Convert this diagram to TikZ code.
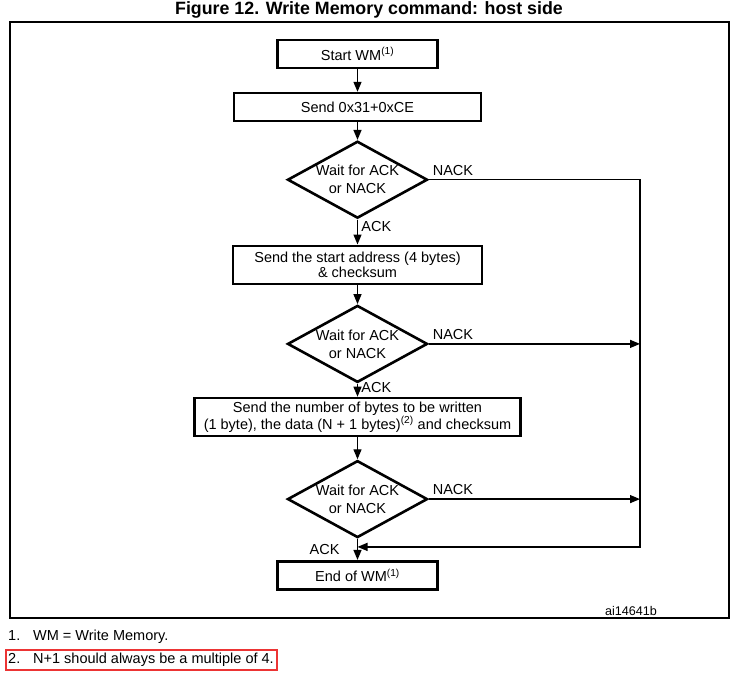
\documentclass[tikz,border=0pt]{standalone}
\usepackage{fontspec}
\setmainfont{Liberation Sans}
\usetikzlibrary{positioning, shapes.geometric, arrows.meta, calc}

\definecolor{alertred}{RGB}{236,52,52}

\tikzset{
  stepbox/.style={rectangle, draw, line width=2.6pt, minimum height=28pt, align=center, font=\fontsize{14.5}{15}\selectfont},
  waitbox/.style={diamond, draw, line width=2.6pt, aspect=1.84, inner sep=0pt, minimum width=140pt, minimum height=77pt, align=center, font=\fontsize{14.5}{18}\selectfont},
  flow/.style={line width=1.3pt, -{Triangle[length=10pt, width=8pt]}},
  tag/.style={font=\fontsize{14.5}{15}\selectfont}
}

\begin{document}
\begin{tikzpicture}[x=1pt, y=-1pt]
  \useasboundingbox (0,0) rectangle (739,674);

  % Titolo e cornice
  \node[font=\bfseries\fontsize{17.8}{20}\selectfont] (title) at (369,10) {Figure 12. Write Memory command: host side};
  \draw[line width=1.2pt] (10,22) rectangle (729,618);

  % Blocchi del flusso
  \node[stepbox, minimum width=160pt] (start) at (357.5,54) {Start WM\textsuperscript{(1)}};
  \node[stepbox, minimum width=247pt, below=22.5pt of start] (send) {Send 0x31+0xCE};
  \node[waitbox, below=17.5pt of send] (wait1) {Wait for ACK\\or NACK};
  \node[stepbox, minimum width=249pt, minimum height=38pt, below=25pt of wait1] (addr) {Send the start address (4 bytes)\\\& checksum};
  \node[waitbox, below=19pt of addr] (wait2) {Wait for ACK\\or NACK};
  \node[stepbox, minimum width=326pt, minimum height=38pt, below=13pt of wait2] (data) {Send the number of bytes to be written\\(1 byte), the data (N + 1 bytes)\textsuperscript{(2)} and checksum};
  \node[waitbox, below=22pt of data] (wait3) {Wait for ACK\\or NACK};
  \node[stepbox, minimum width=160pt, below=21pt of wait3] (stop) {End of WM\textsuperscript{(1)}};

  % Ritorno NACK
  \coordinate (rail) at (640,0);
  \coordinate[below=8pt of wait3.south] (join);

  \draw[flow] (start) -- (send);
  \draw[flow] (send) -- (wait1);
  \draw[flow] (wait1) -- node[tag, pos=0.3, right] {ACK} (addr);
  \draw[flow] (addr) -- (wait2);
  \draw[flow] (wait2) -- node[tag, pos=0.3, right] {ACK} (data);
  \draw[flow] (data) -- (wait3);
  \draw[flow] (wait3) -- node[tag, midway, left=14pt] {ACK} (stop);

  \draw[flow] (wait1.east) -- node[tag, pos=0, above right] {NACK} (wait1.east -| rail) -- (rail |- join) -- (join);
  \draw[flow] (wait2.east) -- node[tag, pos=0, above right] {NACK} (wait2.east -| rail);
  \draw[flow] (wait3.east) -- node[tag, pos=0, above right] {NACK} (wait3.east -| rail);

  % Codice e note
  \node[font=\fontsize{12.6}{14}\selectfont] (code) at (631,611) {ai14641b};
  \node[tag, anchor=west, inner sep=0pt] (note1) at (8,637) {\makebox[25pt][l]{1.}WM = Write Memory.};
  \node[tag, anchor=west, inner sep=0pt] (note2) at (8,660) {\makebox[25pt][l]{2.}N+1 should always be a multiple of 4.};
  \draw[alertred, line width=2.4pt] (6,650) rectangle (277,670);
\end{tikzpicture}
\end{document}
